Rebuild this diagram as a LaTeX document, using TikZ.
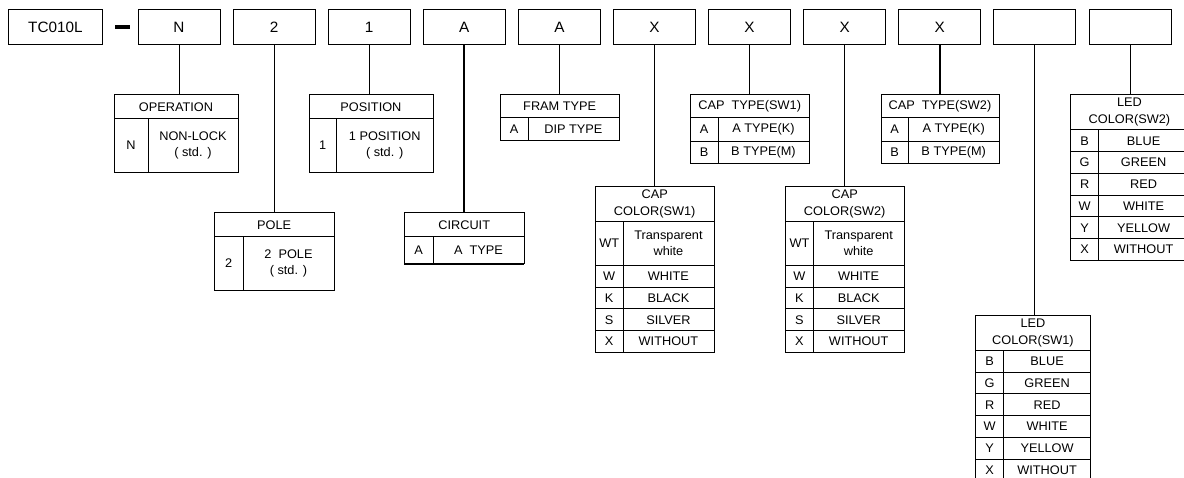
\documentclass[tikz,border=0pt]{standalone}
\usepackage{fontspec}
\setmainfont[FakeStretch=1.02]{Liberation Sans}
\newcommand\hdr[6]{\node[hdrbox, minimum width=#4pt, minimum height=#5pt] (#1) at (#2,#3) {#6};}
\newcommand\trow[8]{\pgfmathsetmacro\rw{#5-#4}\pgfmathsetmacro\rx{#2+#4}%
 \node[cellbox, minimum width=#4pt, minimum height=#6pt] (#1c) at (#2,#3) {#7};%
 \node[cellbox, minimum width=\rw pt, minimum height=#6pt] (#1t) at (\rx,#3) {#8};}
\begin{document}
\begin{tikzpicture}[x=1pt,y=-1pt, line width=0.9pt,
 topbox/.style={draw, anchor=north west, minimum width=82pt, minimum height=35pt, inner sep=0pt, font=\fontsize{15}{17}\selectfont},
 cellbox/.style={draw, anchor=north west, inner sep=0pt, align=center, font=\fontsize{12.5}{15.5}\selectfont},
 hdrbox/.style={cellbox, font=\fontsize{12.5}{17}\selectfont},
 conn/.style={line width=0.9pt},
 boldconn/.style={line width=1.8pt}]
\useasboundingbox (0,0) rectangle (1184,478);
\clip (0,0) rectangle (1184,478);
% top row
\node[topbox, minimum width=94pt] (tc) at (8,9.5) {TC010L};
\node[fill, minimum width=15pt, minimum height=4.5pt, inner sep=0pt] (dash) at (122.5,27) {};
\node[topbox] (b1) at (137.5,9.5) {N};
\node[topbox] (b2) at (232.6,9.5) {2};
\node[topbox] (b3) at (327.7,9.5) {1};
\node[topbox] (b4) at (422.8,9.5) {A};
\node[topbox] (b5) at (517.9,9.5) {A};
\node[topbox] (b6) at (613.0,9.5) {X};
\node[topbox] (b7) at (708.1,9.5) {X};
\node[topbox] (b8) at (803.2,9.5) {X};
\node[topbox] (b9) at (898.3,9.5) {X};
\node[topbox] (b10) at (993.4,9.5) {};
\node[topbox] (b11) at (1088.5,9.5) {};
% OPERATION
\hdr{op}{113.5}{94.5}{124}{23.5}{OPERATION}
\trow{op1}{113.5}{118}{34}{124}{54}{N}{NON-LOCK\\( std. )}
% POSITION
\hdr{pos}{308.5}{94.5}{124}{23.5}{POSITION}
\trow{pos1}{308.5}{118}{27.5}{124}{54}{1}{1 POSITION\\( std. )}
% POLE
\hdr{pole}{214}{212.5}{119.5}{23.5}{POLE}
\trow{pole1}{214}{236}{28.5}{119.5}{54}{2}{2\ \ POLE\\( std. )}
% CIRCUIT
\hdr{cir}{404}{212.5}{119.5}{23.5}{CIRCUIT}
\trow{cir1}{404}{236}{28.5}{119.5}{27.5}{A}{A\ \ TYPE}
\draw[line width=1.8pt] (cir1c.south west) -- (cir1t.south east);
% FRAM TYPE
\hdr{fr}{500}{94.5}{118.5}{23}{FRAM TYPE}
\trow{fr1}{500}{117.5}{27.5}{118.5}{22.5}{A}{DIP TYPE}
% CAP TYPE SW1
\hdr{ct1}{690}{94.5}{118.5}{23}{CAP\ \ TYPE(SW1)}
\trow{ct1a}{690}{117.5}{27.5}{118.5}{23.5}{A}{A TYPE(K)}
\trow{ct1b}{690}{141}{27.5}{118.5}{22}{B}{B TYPE(M)}
% CAP TYPE SW2
\hdr{ct2}{880.5}{94.5}{118}{23}{CAP\ \ TYPE(SW2)}
\trow{ct2a}{880.5}{117.5}{27.5}{118}{23.5}{A}{A TYPE(K)}
\trow{ct2b}{880.5}{141}{27.5}{118}{22}{B}{B TYPE(M)}
% CAP COLOR SW1
\hdr{cc1}{595}{186.5}{118.5}{34.5}{CAP\\COLOR(SW1)}
\trow{cc1a}{595}{221}{27.5}{118.5}{44}{WT}{Transparent\\white}
\trow{cc1b}{595}{265}{27.5}{118.5}{21.7}{W}{WHITE}
\trow{cc1c}{595}{286.7}{27.5}{118.5}{21.7}{K}{BLACK}
\trow{cc1d}{595}{308.4}{27.5}{118.5}{21.7}{S}{SILVER}
\trow{cc1e}{595}{330.1}{27.5}{118.5}{21.7}{X}{WITHOUT}
% CAP COLOR SW2
\hdr{cc2}{785}{186.5}{118.5}{34.5}{CAP\\COLOR(SW2)}
\trow{cc2a}{785}{221}{28}{118.5}{44}{WT}{Transparent\\white}
\trow{cc2b}{785}{265}{28}{118.5}{21.7}{W}{WHITE}
\trow{cc2c}{785}{286.7}{28}{118.5}{21.7}{K}{BLACK}
\trow{cc2d}{785}{308.4}{28}{118.5}{21.7}{S}{SILVER}
\trow{cc2e}{785}{330.1}{28}{118.5}{21.7}{X}{WITHOUT}
% LED COLOR SW2
\hdr{led2}{1070}{94.5}{118}{35}{LED\\COLOR(SW2)}
\trow{led2a}{1070}{129.5}{28.3}{118}{21.75}{B}{BLUE}
\trow{led2b}{1070}{151.25}{28.3}{118}{21.75}{G}{GREEN}
\trow{led2c}{1070}{173}{28.3}{118}{21.75}{R}{RED}
\trow{led2d}{1070}{194.75}{28.3}{118}{21.75}{W}{WHITE}
\trow{led2e}{1070}{216.5}{28.3}{118}{21.75}{Y}{YELLOW}
\trow{led2f}{1070}{238.25}{28.3}{118}{21.75}{X}{WITHOUT}
% LED COLOR SW1
\hdr{led1}{975}{315}{115}{35}{LED\\COLOR(SW1)}
\trow{led1a}{975}{350}{28.3}{115}{21.75}{B}{BLUE}
\trow{led1b}{975}{371.75}{28.3}{115}{21.75}{G}{GREEN}
\trow{led1c}{975}{393.5}{28.3}{115}{21.75}{R}{RED}
\trow{led1d}{975}{415.25}{28.3}{115}{21.75}{W}{WHITE}
\trow{led1e}{975}{437}{28.3}{115}{21.75}{Y}{YELLOW}
\trow{led1f}{975}{458.75}{28.3}{115}{21.75}{X}{WITHOUT}
% connectors
\draw[conn] (b1.south) -- (b1.south |- op.north);
\draw[conn] (b2.south) -- (b2.south |- pole.north);
\draw[conn] (b3.south) -- (b3.south |- pos.north);
\draw[boldconn] (b4.south) -- (b4.south |- cir.north);
\draw[conn] (b5.south) -- (b5.south |- fr.north);
\draw[conn] (b6.south) -- (b6.south |- cc1.north);
\draw[boldconn] (b7.south) -- (b7.south |- ct1.north);
\draw[conn] (b8.south) -- (b8.south |- cc2.north);
\draw[boldconn] (b9.south) -- (b9.south |- ct2.north);
\draw[conn] (b10.south) -- (b10.south |- led1.north);
\draw[conn] (b11.south) -- (b11.south |- led2.north);
\end{tikzpicture}
\end{document}
